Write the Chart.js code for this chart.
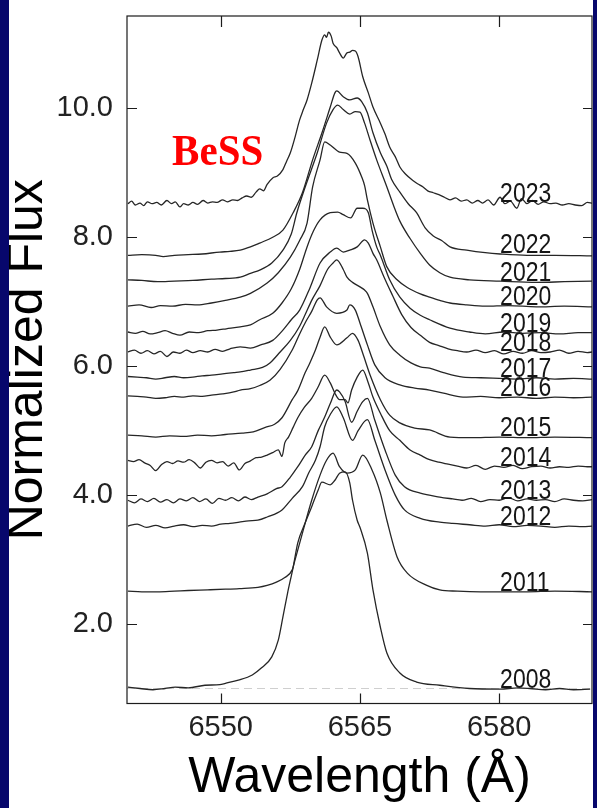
<!DOCTYPE html>
<html>
<head>
<meta charset="utf-8">
<title>BeSS H-alpha profiles</title>
<script src="https://cdn.jsdelivr.net/npm/chart.js@4"></script>
<style>
  html, body { margin: 0; padding: 0; background: #fff; }
  #wrap { position: relative; width: 597px; height: 808px; background: #fff; overflow: hidden; }
  canvas { display: block; }
  .edge { position: absolute; background: #07076c; }
</style>
</head>
<body>
<div id="wrap">
  <canvas id="c" width="597" height="808"></canvas>
  <div class="edge" style="left:0;top:0;width:9px;height:808px"></div>
  <div class="edge" style="right:0;top:0;width:4px;height:808px"></div>
</div>
<script>
// Observation years, bottom to top
const years = ['2008', '2011', '2012', '2013', '2014', '2015', '2016', '2017', '2018', '2019', '2020', '2021', '2022', '2023'];

// Wavelength (Å) and normalized flux of each spectrum
const wl2008 = [6540.0, 6541.3, 6542.7, 6544.0, 6545.1, 6546.5, 6548.3, 6549.9, 6550.5, 6551.9, 6553.4, 6554.4, 6555.5, 6556.2, 6556.7, 6557.2, 6557.8, 6558.3, 6559.1, 6559.8, 6560.5, 6560.9, 6561.8, 6562.3, 6562.8, 6563.4, 6563.9, 6564.2, 6564.7, 6565.0, 6565.8, 6566.4, 6567.2, 6567.9, 6569.3, 6571.1, 6573.6, 6576.8, 6580.1, 6582.0, 6583.3, 6585.0, 6586.5, 6588.0, 6589.8];
const fx2008 = [1.02, 1.00, 0.98, 1.00, 1.02, 1.01, 1.05, 1.06, 1.08, 1.13, 1.21, 1.32, 1.49, 1.75, 2.11, 2.48, 2.88, 3.26, 3.57, 3.82, 4.08, 4.20, 4.16, 4.23, 4.34, 4.36, 4.19, 3.92, 3.61, 3.50, 3.10, 2.53, 1.95, 1.55, 1.24, 1.10, 1.05, 1.00, 0.99, 1.01, 1.00, 0.98, 1.00, 0.98, 0.99];

const wl2011 = [6540.0, 6541.5, 6543.2, 6545.0, 6546.5, 6548.6, 6550.5, 6552.0, 6554.0, 6555.0, 6556.0, 6556.9, 6557.7, 6558.0, 6558.4, 6558.8, 6559.8, 6560.7, 6561.4, 6562.1, 6562.8, 6563.6, 6564.5, 6565.3, 6566.3, 6567.2, 6567.9, 6569.0, 6570.1, 6572.2, 6573.6, 6575.5, 6578.0, 6580.1, 6583.0, 6586.0, 6590.0];
const fx2011 = [2.51, 2.50, 2.50, 2.51, 2.52, 2.53, 2.54, 2.55, 2.57, 2.60, 2.65, 2.72, 2.84, 2.99, 3.20, 3.41, 3.92, 4.31, 4.54, 4.65, 4.44, 4.34, 4.39, 4.62, 4.39, 4.03, 3.61, 3.04, 2.79, 2.60, 2.53, 2.51, 2.50, 2.50, 2.50, 2.51, 2.50];

const wl2012 = [6540.0, 6541.0, 6542.0, 6543.0, 6544.0, 6545.0, 6546.0, 6547.0, 6548.0, 6549.0, 6550.0, 6551.0, 6552.0, 6553.0, 6554.0, 6555.0, 6556.6, 6557.7, 6558.8, 6559.5, 6560.2, 6560.7, 6561.2, 6561.8, 6562.5, 6563.2, 6564.2, 6564.8, 6565.8, 6566.6, 6567.7, 6568.8, 6569.8, 6571.5, 6573.6, 6575.0, 6576.8, 6578.5, 6580.0, 6581.5, 6583.0, 6584.5, 6586.0, 6587.5, 6589.0, 6590.0];
const fx2012 = [3.52, 3.55, 3.50, 3.53, 3.49, 3.52, 3.54, 3.51, 3.53, 3.52, 3.55, 3.56, 3.58, 3.60, 3.61, 3.66, 3.77, 3.95, 4.13, 4.35, 4.54, 4.75, 5.06, 5.25, 5.37, 5.20, 4.85, 5.00, 5.17, 4.85, 4.39, 4.00, 3.77, 3.64, 3.58, 3.56, 3.54, 3.52, 3.54, 3.51, 3.53, 3.52, 3.50, 3.52, 3.51, 3.52];

const wl2013 = [6540.0, 6540.7, 6541.4, 6542.1, 6542.8, 6543.5, 6544.2, 6544.9, 6545.6, 6546.3, 6547.0, 6547.7, 6548.4, 6549.1, 6549.8, 6550.5, 6551.2, 6551.9, 6552.6, 6553.3, 6554.0, 6555.0, 6556.0, 6556.6, 6557.5, 6558.3, 6559.1, 6559.8, 6560.5, 6561.2, 6561.8, 6562.5, 6562.8, 6563.4, 6564.1, 6564.7, 6565.3, 6565.8, 6566.6, 6567.7, 6568.8, 6569.8, 6571.5, 6573.6, 6575.0, 6576.0, 6577.0, 6578.0, 6579.0, 6580.0, 6581.0, 6582.0, 6583.0, 6584.0, 6585.0, 6586.0, 6587.0, 6588.0, 6589.0, 6590.0];
const fx2013 = [3.92, 3.88, 3.94, 3.90, 3.95, 3.89, 3.93, 3.88, 3.94, 3.91, 3.96, 3.90, 3.94, 3.87, 3.95, 3.92, 3.96, 3.91, 3.97, 3.93, 3.97, 4.02, 4.10, 4.13, 4.28, 4.44, 4.62, 4.75, 5.00, 5.21, 5.42, 5.63, 5.60, 5.45, 5.13, 5.30, 5.45, 5.50, 5.16, 4.70, 4.31, 4.13, 4.03, 3.97, 3.94, 3.92, 3.95, 3.90, 3.93, 3.92, 3.96, 3.91, 3.94, 3.92, 3.93, 3.90, 3.94, 3.92, 3.91, 3.93];

const wl2014 = [6540.0, 6540.6, 6541.2, 6541.8, 6542.4, 6543.0, 6543.6, 6544.2, 6544.8, 6545.4, 6546.0, 6546.6, 6547.2, 6547.8, 6548.4, 6549.0, 6549.6, 6550.2, 6550.8, 6551.4, 6552.0, 6552.6, 6553.2, 6553.8, 6554.4, 6555.0, 6555.6, 6556.2, 6556.6, 6556.9, 6557.3, 6557.8, 6558.3, 6559.0, 6559.8, 6560.5, 6561.2, 6561.8, 6562.3, 6562.8, 6563.4, 6563.7, 6564.1, 6564.7, 6565.3, 6565.9, 6566.4, 6567.2, 6568.2, 6569.3, 6570.4, 6571.5, 6572.5, 6573.5, 6574.5, 6575.5, 6576.5, 6577.5, 6578.5, 6579.5, 6580.5, 6581.5, 6582.5, 6583.5, 6584.5, 6585.5, 6586.5, 6587.5, 6588.5, 6589.5, 6590.0];
const fx2014 = [4.54, 4.52, 4.55, 4.50, 4.46, 4.38, 4.47, 4.52, 4.49, 4.53, 4.51, 4.55, 4.50, 4.42, 4.51, 4.54, 4.50, 4.52, 4.45, 4.50, 4.39, 4.49, 4.53, 4.58, 4.59, 4.62, 4.66, 4.70, 4.60, 4.81, 4.90, 5.05, 5.20, 5.36, 5.50, 5.68, 5.86, 5.74, 5.58, 5.48, 5.48, 5.43, 5.63, 5.83, 5.94, 5.74, 5.52, 5.27, 5.00, 4.85, 4.70, 4.62, 4.55, 4.51, 4.48, 4.45, 4.42, 4.46, 4.40, 4.45, 4.43, 4.46, 4.41, 4.44, 4.45, 4.42, 4.44, 4.43, 4.45, 4.44, 4.44];

const wl2015 = [6540.0, 6541.5, 6543.0, 6544.5, 6546.0, 6547.5, 6549.0, 6550.5, 6552.3, 6553.5, 6554.8, 6555.8, 6556.6, 6557.7, 6558.3, 6559.1, 6559.6, 6560.2, 6560.7, 6561.2, 6561.8, 6562.5, 6563.6, 6564.2, 6564.8, 6565.3, 6566.1, 6567.2, 6568.2, 6569.3, 6570.9, 6572.5, 6574.7, 6577.0, 6580.0, 6583.0, 6586.0, 6590.0];
const fx2015 = [4.93, 4.92, 4.90, 4.92, 4.91, 4.93, 4.92, 4.94, 4.96, 4.98, 5.05, 5.10, 5.20, 5.48, 5.62, 5.90, 6.05, 6.25, 6.45, 6.61, 6.45, 6.33, 6.44, 6.51, 6.40, 6.20, 5.86, 5.48, 5.24, 5.12, 5.04, 5.01, 4.90, 4.89, 4.90, 4.89, 4.90, 4.89];

const wl2016 = [6540.0, 6541.0, 6542.0, 6543.0, 6544.0, 6545.0, 6546.0, 6547.0, 6548.0, 6549.0, 6550.2, 6551.4, 6552.1, 6553.2, 6554.2, 6555.3, 6556.4, 6557.7, 6558.5, 6559.2, 6559.8, 6560.4, 6560.7, 6561.4, 6562.5, 6563.6, 6563.9, 6564.5, 6565.0, 6565.8, 6566.6, 6567.7, 6569.3, 6570.9, 6572.5, 6574.0, 6576.1, 6578.0, 6580.0, 6582.0, 6584.0, 6586.0, 6588.0, 6590.0];
const fx2016 = [5.54, 5.53, 5.52, 5.50, 5.51, 5.53, 5.52, 5.54, 5.53, 5.55, 5.57, 5.60, 5.63, 5.65, 5.70, 5.78, 5.95, 6.25, 6.50, 6.70, 6.85, 7.03, 7.06, 6.92, 6.82, 6.87, 6.95, 6.87, 6.67, 6.33, 6.02, 5.82, 5.71, 5.66, 5.63, 5.58, 5.52, 5.53, 5.51, 5.52, 5.50, 5.52, 5.51, 5.52];

const wl2017 = [6540.0, 6541.0, 6542.0, 6543.0, 6544.0, 6545.0, 6546.0, 6547.0, 6548.0, 6549.0, 6550.2, 6551.4, 6552.1, 6553.2, 6554.5, 6555.3, 6556.4, 6557.5, 6558.5, 6559.1, 6559.8, 6560.7, 6561.5, 6562.1, 6562.5, 6563.2, 6563.6, 6564.2, 6565.0, 6565.5, 6565.8, 6566.4, 6567.2, 6568.2, 6569.3, 6570.5, 6571.5, 6572.5, 6574.0, 6576.1, 6578.0, 6580.0, 6582.0, 6584.0, 6586.0, 6588.0, 6590.0];
const fx2017 = [5.84, 5.83, 5.82, 5.80, 5.82, 5.84, 5.82, 5.83, 5.85, 5.86, 5.88, 5.90, 5.91, 5.94, 5.98, 6.05, 6.22, 6.40, 6.62, 6.80, 7.02, 7.25, 7.50, 7.60, 7.65, 7.50, 7.38, 7.30, 7.23, 7.18, 7.13, 6.92, 6.61, 6.33, 6.17, 6.05, 5.99, 5.97, 5.90, 5.83, 5.82, 5.81, 5.80, 5.82, 5.80, 5.81, 5.80];

const wl2018 = [6540.0, 6540.7, 6541.4, 6542.1, 6542.8, 6543.5, 6544.2, 6544.9, 6545.6, 6546.3, 6547.0, 6547.8, 6548.6, 6549.4, 6550.2, 6551.0, 6552.1, 6553.2, 6554.3, 6555.6, 6556.7, 6557.6, 6558.5, 6559.6, 6560.7, 6561.8, 6562.5, 6563.2, 6563.9, 6564.7, 6565.5, 6565.9, 6566.4, 6566.8, 6567.6, 6568.5, 6569.5, 6570.5, 6571.5, 6572.5, 6573.5, 6574.5, 6575.5, 6576.5, 6577.5, 6578.5, 6579.5, 6580.5, 6581.5, 6582.5, 6583.5, 6584.5, 6585.5, 6586.5, 6587.5, 6588.5, 6589.5, 6590.0];
const fx2018 = [6.22, 6.25, 6.20, 6.24, 6.19, 6.23, 6.15, 6.22, 6.20, 6.25, 6.21, 6.24, 6.22, 6.26, 6.23, 6.27, 6.30, 6.28, 6.33, 6.40, 6.56, 6.72, 6.87, 7.21, 7.60, 7.77, 7.83, 7.77, 7.80, 7.85, 7.96, 7.91, 7.75, 7.65, 7.38, 7.10, 6.80, 6.60, 6.48, 6.37, 6.32, 6.27, 6.24, 6.22, 6.25, 6.21, 6.24, 6.19, 6.23, 6.20, 6.24, 6.21, 6.22, 6.25, 6.20, 6.23, 6.21, 6.22];

const wl2019 = [6540.0, 6540.8, 6541.6, 6542.4, 6543.2, 6544.0, 6544.8, 6545.6, 6546.6, 6547.6, 6548.6, 6549.6, 6550.6, 6552.1, 6553.2, 6554.2, 6555.6, 6556.6, 6557.6, 6558.5, 6559.3, 6560.0, 6560.7, 6561.8, 6562.6, 6563.2, 6564.0, 6564.7, 6565.3, 6565.9, 6566.3, 6566.8, 6567.2, 6568.2, 6569.3, 6570.4, 6571.5, 6572.5, 6574.7, 6576.8, 6578.5, 6580.5, 6582.5, 6584.5, 6586.5, 6588.5, 6590.0];
const fx2019 = [6.53, 6.51, 6.54, 6.50, 6.52, 6.55, 6.51, 6.48, 6.53, 6.52, 6.55, 6.56, 6.58, 6.61, 6.64, 6.72, 6.82, 6.98, 7.20, 7.50, 7.85, 8.10, 8.27, 8.38, 8.39, 8.35, 8.30, 8.45, 8.45, 8.38, 8.11, 7.85, 7.72, 7.34, 7.07, 6.90, 6.79, 6.72, 6.59, 6.53, 6.50, 6.53, 6.51, 6.52, 6.50, 6.52, 6.52];

const wl2020 = [6540.0, 6541.2, 6542.5, 6543.5, 6544.8, 6546.2, 6547.5, 6549.0, 6550.5, 6552.1, 6553.2, 6555.0, 6556.2, 6557.5, 6558.5, 6559.3, 6559.9, 6560.7, 6561.2, 6561.8, 6562.8, 6563.6, 6564.5, 6565.2, 6565.5, 6565.8, 6566.4, 6567.2, 6567.9, 6569.0, 6570.1, 6571.5, 6572.5, 6573.6, 6574.7, 6576.5, 6578.5, 6581.0, 6584.0, 6587.0, 6590.0];
const fx2020 = [6.93, 6.95, 6.91, 6.94, 6.93, 6.96, 6.95, 6.98, 7.02, 7.07, 7.13, 7.29, 7.45, 7.69, 7.95, 8.22, 8.78, 9.20, 9.48, 9.43, 9.32, 9.30, 9.15, 8.93, 8.80, 8.58, 8.22, 7.85, 7.54, 7.34, 7.22, 7.12, 7.07, 7.02, 6.98, 6.95, 6.93, 6.94, 6.92, 6.93, 6.92];

const wl2021 = [6540.0, 6541.5, 6543.2, 6545.0, 6547.0, 6549.0, 6550.5, 6552.1, 6553.2, 6554.2, 6555.5, 6556.7, 6557.6, 6558.2, 6559.1, 6560.4, 6561.4, 6562.1, 6562.6, 6563.2, 6563.9, 6564.5, 6565.0, 6565.5, 6566.1, 6566.8, 6567.9, 6568.6, 6569.3, 6570.4, 6571.5, 6572.5, 6573.6, 6574.7, 6576.8, 6580.1, 6584.0, 6587.0, 6590.0];
const fx2021 = [7.34, 7.33, 7.31, 7.32, 7.33, 7.35, 7.36, 7.38, 7.44, 7.49, 7.60, 7.80, 8.05, 8.38, 8.78, 9.31, 9.77, 9.98, 10.05, 9.98, 9.91, 9.95, 9.94, 9.77, 9.50, 9.20, 8.78, 8.50, 8.25, 7.98, 7.75, 7.57, 7.45, 7.38, 7.34, 7.32, 7.30, 7.31, 7.32];

const wl2022 = [6540.0, 6541.5, 6543.0, 6543.8, 6545.0, 6546.5, 6548.0, 6549.9, 6551.0, 6552.1, 6553.2, 6554.2, 6555.6, 6556.7, 6557.8, 6558.8, 6559.9, 6561.0, 6561.8, 6562.3, 6562.5, 6563.2, 6563.9, 6564.7, 6565.2, 6565.8, 6566.4, 6567.2, 6567.9, 6568.4, 6569.3, 6570.2, 6571.1, 6572.0, 6572.9, 6573.8, 6574.7, 6576.5, 6578.5, 6580.1, 6583.0, 6586.0, 6590.0];
const fx2022 = [7.72, 7.73, 7.72, 7.70, 7.72, 7.73, 7.74, 7.77, 7.78, 7.80, 7.85, 7.91, 8.00, 8.11, 8.38, 8.69, 9.20, 9.66, 10.02, 10.24, 10.27, 10.18, 10.13, 10.16, 10.10, 9.93, 9.62, 9.31, 9.10, 8.90, 8.70, 8.52, 8.38, 8.15, 8.02, 7.95, 7.85, 7.80, 7.76, 7.74, 7.72, 7.72, 7.71];

const wl2023 = [6540.0, 6540.4, 6540.8, 6541.3, 6541.7, 6542.1, 6542.6, 6543.1, 6543.6, 6544.2, 6544.7, 6545.1, 6545.6, 6546.0, 6546.5, 6547.0, 6547.5, 6548.1, 6548.6, 6549.1, 6549.6, 6550.2, 6550.7, 6551.3, 6551.8, 6552.3, 6552.8, 6553.3, 6553.8, 6554.2, 6554.6, 6555.0, 6555.6, 6556.1, 6556.7, 6557.1, 6557.5, 6558.0, 6558.5, 6558.9, 6559.3, 6559.8, 6560.4, 6560.9, 6561.2, 6561.4, 6561.6, 6561.9, 6562.1, 6562.5, 6562.8, 6563.2, 6563.6, 6563.9, 6564.2, 6564.5, 6564.8, 6565.3, 6565.9, 6566.4, 6567.2, 6567.7, 6568.2, 6568.8, 6569.3, 6569.9, 6570.7, 6571.2, 6571.8, 6572.3, 6572.9, 6573.5, 6574.1, 6574.7, 6575.3, 6575.9, 6576.5, 6577.1, 6577.7, 6578.2, 6578.8, 6579.4, 6580.1, 6580.6, 6581.2, 6581.9, 6582.4, 6583.0, 6583.6, 6584.2, 6584.8, 6585.5, 6586.1, 6586.8, 6587.5, 6588.2, 6588.9, 6589.5, 6590.0];
const fx2023 = [8.52, 8.56, 8.50, 8.53, 8.49, 8.55, 8.52, 8.54, 8.50, 8.57, 8.52, 8.55, 8.47, 8.52, 8.50, 8.54, 8.51, 8.57, 8.53, 8.55, 8.54, 8.58, 8.55, 8.58, 8.57, 8.61, 8.64, 8.62, 8.70, 8.75, 8.72, 8.82, 8.92, 8.95, 9.05, 9.18, 9.31, 9.55, 9.82, 9.98, 10.13, 10.39, 10.75, 11.06, 11.14, 11.10, 11.18, 11.12, 11.01, 10.94, 10.86, 10.78, 10.86, 10.87, 10.90, 10.89, 10.80, 10.49, 10.24, 10.02, 9.77, 9.60, 9.40, 9.25, 9.09, 8.98, 8.88, 8.83, 8.78, 8.72, 8.69, 8.66, 8.62, 8.58, 8.61, 8.56, 8.58, 8.53, 8.57, 8.53, 8.58, 8.50, 8.62, 8.52, 8.56, 8.45, 8.60, 8.52, 8.57, 8.51, 8.55, 8.52, 8.53, 8.50, 8.52, 8.50, 8.49, 8.54, 8.53];

const series = [
  [wl2008, fx2008], [wl2011, fx2011], [wl2012, fx2012], [wl2013, fx2013],
  [wl2014, fx2014], [wl2015, fx2015], [wl2016, fx2016], [wl2017, fx2017],
  [wl2018, fx2018], [wl2019, fx2019], [wl2020, fx2020], [wl2021, fx2021],
  [wl2022, fx2022], [wl2023, fx2023]
];

// Axis ticks and the unit-continuum reference level
const xTicks = [6550, 6565, 6580];
const yTicks = [2, 4, 6, 8, 10];
const continuumLevel = 1.0;

const X_MIN = 6539.9, X_MAX = 6590.0;
const Y_MIN = 0.767, Y_MAX = 11.432;
const LABEL_WL = 6580.1;     // left edge of the year labels
const SANS = "'Liberation Sans', Arial, Helvetica, sans-serif";

Chart.defaults.font.family = SANS;

// Continuum level under a year label: mean flux on the red side
function redContinuum(w, f) {
  let s = 0, n = 0;
  w.forEach((v, i) => { if (v >= 6578 && v <= 6588) { s += f[i]; n++; } });
  return n ? s / n : f[f.length - 1];
}

// Frame with inward ticks on all four sides, year labels and the BeSS tag
const framePlugin = {
  id: 'frame',
  afterDatasetsDraw(chart) {
    const { ctx, chartArea: a, scales: { x, y } } = chart;
    ctx.save();
    ctx.strokeStyle = '#1c1c1c';
    ctx.lineWidth = 1.2;
    ctx.strokeRect(a.left, a.top, a.right - a.left, a.bottom - a.top);
    ctx.beginPath();
    xTicks.forEach(v => {
      const px = Math.round(x.getPixelForValue(v)) + 0.5;
      ctx.moveTo(px, a.bottom); ctx.lineTo(px, a.bottom - 10);
      ctx.moveTo(px, a.top); ctx.lineTo(px, a.top + 11);
    });
    yTicks.forEach(v => {
      const py = Math.round(y.getPixelForValue(v)) + 0.5;
      ctx.moveTo(a.left, py); ctx.lineTo(a.left + 10, py);
      ctx.moveTo(a.right, py); ctx.lineTo(a.right - 9, py);
    });
    ctx.stroke();

    // Year labels sitting on each spectrum's red continuum
    ctx.fillStyle = '#151515';
    ctx.font = '23px ' + SANS;
    ctx.textAlign = 'left';
    ctx.textBaseline = 'alphabetic';
    const lx = x.getPixelForValue(LABEL_WL);
    series.forEach(([w, f], k) => {
      const py = y.getPixelForValue(redContinuum(w, f));
      ctx.save();
      ctx.translate(lx, py - 1);
      ctx.scale(1, 1.18);
      ctx.fillText(years[k], 0, 0);
      ctx.restore();
    });

    // Source tag
    ctx.fillStyle = '#ff0000';
    ctx.font = "bold 41px 'Liberation Serif', 'Times New Roman', serif";
    ctx.save();
    ctx.translate(x.getPixelForValue(6544.76), y.getPixelForValue(9.12));
    ctx.scale(1, 1.1);
    ctx.fillText('BeSS', 0, 0);
    ctx.restore();
    ctx.restore();
  }
};

const datasets = series.map(([w, f], k) => ({
  label: years[k],
  data: w.map((v, i) => ({ x: v, y: f[i] })),
  showLine: true,
  borderColor: '#262626',
  borderWidth: 1.3,
  pointRadius: 0,
  cubicInterpolationMode: 'monotone',
  order: 0
}));

datasets.push({
  label: 'continuum',
  data: [{ x: X_MIN, y: continuumLevel }, { x: X_MAX, y: continuumLevel }],
  showLine: true,
  borderColor: '#cfcfcf',
  borderWidth: 1.2,
  borderDash: [8, 5],
  pointRadius: 0,
  order: 1
});

new Chart(document.getElementById('c'), {
  type: 'scatter',
  data: { datasets },
  plugins: [framePlugin],
  options: {
    responsive: false,
    animation: false,
    devicePixelRatio: 1,
    layout: { padding: { top: 16, right: 5, left: 0, bottom: 0 } },
    plugins: { legend: { display: false }, tooltip: { enabled: false } },
    scales: {
      x: {
        type: 'linear',
        min: X_MIN,
        max: X_MAX,
        grid: { display: false, drawTicks: false },
        border: { display: false },
        afterBuildTicks: s => { s.ticks = xTicks.map(v => ({ value: v })); },
        afterFit: s => { s.height = 104.5; s.paddingLeft = 0; s.paddingRight = 0; },
        ticks: {
          autoSkip: false,
          maxRotation: 0,
          padding: 7,
          color: '#222',
          font: { size: 29 },
          callback: v => String(v)
        },
        title: {
          display: true,
          text: 'Wavelength (Å)',
          color: '#000',
          font: { size: 50, lineHeight: 1 },
          padding: { top: 0, bottom: 5 }
        }
      },
      y: {
        type: 'linear',
        min: Y_MIN,
        max: Y_MAX,
        grid: { display: false, drawTicks: false },
        border: { display: false },
        afterBuildTicks: s => { s.ticks = yTicks.map(v => ({ value: v })); },
        afterFit: s => { s.width = 127; s.paddingTop = 0; s.paddingBottom = 0; },
        ticks: {
          autoSkip: false,
          padding: 14,
          color: '#222',
          font: { size: 29 },
          callback: v => Number(v).toFixed(1)
        },
        title: {
          display: true,
          text: 'Normalized Flux',
          color: '#000',
          font: { size: 50, lineHeight: 1 },
          padding: { top: 3, bottom: 0 }
        }
      }
    }
  }
});
</script>
</body>
</html>
